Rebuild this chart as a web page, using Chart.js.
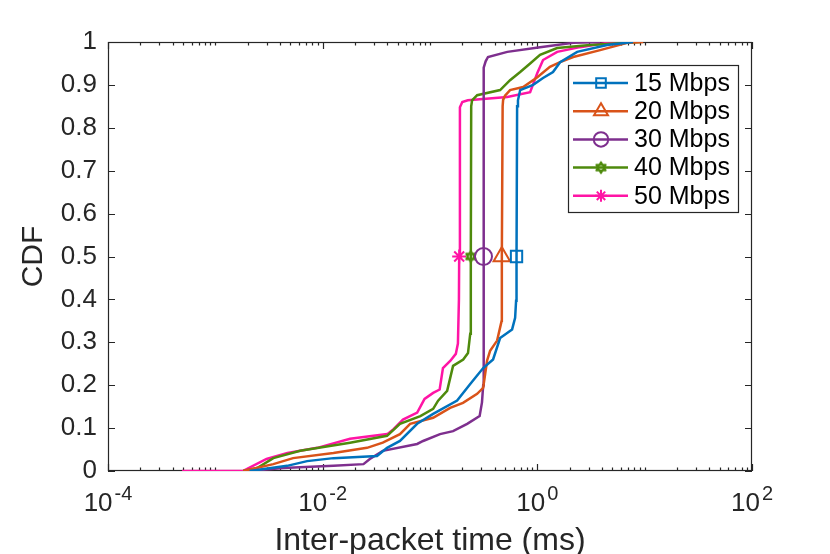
<!DOCTYPE html>
<html>
<head>
<meta charset="utf-8">
<script src="https://cdn.jsdelivr.net/npm/chart.js@4.4.1/dist/chart.umd.min.js"></script>
<style>
  html, body { margin: 0; padding: 0; background: #fff; }
  canvas { display: block; }
</style>
</head>
<body>
<canvas id="grafico" width="830" height="554"></canvas>
<script>
// series names
const seriesNames = ['15 Mbps', '20 Mbps', '30 Mbps', '40 Mbps', '50 Mbps'];

// inter-packet time (ms) and CDF value for each curve
const tiempo15 = [0.00209, 0.00466, 0.00716, 0.0126, 0.0321, 0.0398, 0.0525, 0.0759, 0.107, 0.179, 0.237, 0.313, 0.387, 0.45, 0.582, 0.621, 0.634, 0.64, 0.648, 0.66, 0.692, 0.914, 1.13, 1.40, 1.63, 2.35, 4.47, 7.8];
const cdf15    = [0, 0.012, 0.023, 0.03, 0.035, 0.054, 0.07, 0.11, 0.133, 0.164, 0.203, 0.24, 0.26, 0.31, 0.33, 0.357, 0.397, 0.5, 0.85, 0.864, 0.888, 0.9, 0.916, 0.93, 0.953, 0.977, 0.993, 1.0];

const tiempo20 = [0.00182, 0.00347, 0.0053, 0.0126, 0.0259, 0.0363, 0.0525, 0.0653, 0.107, 0.154, 0.203, 0.275, 0.313, 0.34, 0.363, 0.422, 0.465, 0.467, 0.475, 0.48, 0.5, 0.557, 0.738, 1.0, 1.31, 1.63, 2.16, 3.85, 6.87, 9.7];
const cdf20    = [0, 0.016, 0.03, 0.042, 0.054, 0.066, 0.086, 0.11, 0.124, 0.147, 0.159, 0.18, 0.194, 0.257, 0.28, 0.304, 0.35, 0.5, 0.85, 0.865, 0.875, 0.888, 0.895, 0.918, 0.942, 0.953, 0.965, 0.981, 0.998, 1.0];

const tiempo30 = [0.00209, 0.00427, 0.0126, 0.024, 0.0275, 0.0363, 0.0759, 0.0863, 0.124, 0.164, 0.222, 0.29, 0.305, 0.313, 0.315, 0.318, 0.33, 0.347, 0.525, 1.06, 2.16, 3.85];
const cdf30    = [0, 0.007, 0.012, 0.016, 0.028, 0.047, 0.063, 0.07, 0.086, 0.093, 0.11, 0.128, 0.16, 0.2, 0.5, 0.94, 0.955, 0.965, 0.977, 0.988, 0.998, 1.0];

const tiempo40 = [0.00182, 0.00245, 0.00347, 0.00617, 0.018, 0.0398, 0.0525, 0.0813, 0.107, 0.119, 0.1445, 0.164, 0.204, 0.226, 0.237, 0.24, 0.242, 0.2466, 0.275, 0.45, 0.557, 0.692, 0.857, 1.06, 1.53, 3.09, 9.1];
const cdf40    = [0, 0.007, 0.03, 0.047, 0.066, 0.082, 0.11, 0.128, 0.145, 0.164, 0.187, 0.245, 0.26, 0.275, 0.32, 0.5, 0.85, 0.864, 0.876, 0.888, 0.911, 0.93, 0.95, 0.97, 0.986, 0.993, 1.0];

const tiempo50 = [0.00049, 0.0018, 0.003, 0.0047, 0.0089, 0.018, 0.040, 0.046, 0.056, 0.076, 0.089, 0.107, 0.123, 0.132, 0.155, 0.174, 0.182, 0.186, 0.187, 0.19, 0.2, 0.225, 0.525, 0.857, 1.0, 1.13, 1.53, 2.5, 4.5, 6.3];
const cdf50    = [0, 0, 0.028, 0.042, 0.054, 0.075, 0.086, 0.098, 0.12, 0.136, 0.168, 0.182, 0.19, 0.24, 0.257, 0.273, 0.297, 0.4, 0.5, 0.848, 0.86, 0.864, 0.872, 0.883, 0.928, 0.958, 0.977, 0.988, 0.998, 1.0];

// axis ticks (x labels are 10 raised to the exponent)
const xTickValues = [1e-4, 1e-2, 1, 100];
const xTickBase = ['10', '10', '10', '10'];
const xTickExponent = ['-4', '-2', '0', '2'];
const yTickValues = [0, 0.1, 0.2, 0.3, 0.4, 0.5, 0.6, 0.7, 0.8, 0.9, 1];
const yTickLabels = ['0', '0.1', '0.2', '0.3', '0.4', '0.5', '0.6', '0.7', '0.8', '0.9', '1'];

// the marker sits on the point where the CDF is 0.5
const markerCdf = 0.5;

const tiempos = [tiempo15, tiempo20, tiempo30, tiempo40, tiempo50];
const cdfs = [cdf15, cdf20, cdf30, cdf40, cdf50];

const colores = ['#0072BD', '#D95319', '#7E2F8E', '#4E8A0C', '#FF14A5'];
const ejeColor = '#262626';
const fuente = '"Liberation Sans", Arial, sans-serif';

function hexagrama(color) {
  const c = document.createElement('canvas');
  c.width = 16; c.height = 16;
  const g = c.getContext('2d');
  g.strokeStyle = color;
  g.lineWidth = 1.8;
  g.lineJoin = 'round';
  [-90, 90].forEach(inicio => {
    g.beginPath();
    for (let k = 0; k < 3; k++) {
      const a = (inicio + k * 120) * Math.PI / 180;
      const px = 8 + 5.5 * Math.cos(a), py = 8 + 5.5 * Math.sin(a);
      if (k) g.lineTo(px, py); else g.moveTo(px, py);
    }
    g.closePath();
    g.stroke();
  });
  return c;
}

const marcadores = ['rect', 'triangle', 'circle', hexagrama(colores[3]), 'star'];
const tamMarcador = [8, 9.5, 8.5, 6, 7];

Chart.defaults.font.family = fuente;
Chart.defaults.color = ejeColor;

const datasets = seriesNames.map((nombre, i) => ({
  label: nombre,
  data: tiempos[i].map((t, k) => ({ x: t, y: cdfs[i][k] })),
  borderColor: colores[i],
  backgroundColor: 'rgba(0,0,0,0)',
  borderWidth: 2.5,
  tension: 0,
  pointStyle: marcadores[i],
  pointRadius: ctx => (ctx.raw && ctx.raw.y === markerCdf ? tamMarcador[i] : 0),
  pointHoverRadius: 0,
  pointBorderColor: colores[i],
  pointBackgroundColor: 'rgba(0,0,0,0)',
  pointBorderWidth: 2
}));

// box + inward ticks like MATLAB, x labels with superscript, legend
const marco = {
  id: 'marco',
  beforeDatasetsDraw(chart) {
    const { ctx, chartArea: a, scales: { x, y } } = chart;
    ctx.save();
    ctx.strokeStyle = ejeColor;
    ctx.lineWidth = 1.2;
    ctx.beginPath();
    yTickValues.forEach(v => {
      const p = Math.round(y.getPixelForValue(v)) + 0.5;
      ctx.moveTo(a.left, p); ctx.lineTo(a.left + 7, p);
      ctx.moveTo(a.right, p); ctx.lineTo(a.right - 7, p);
    });
    xTickValues.forEach(v => {
      const p = Math.round(x.getPixelForValue(v)) + 0.5;
      ctx.moveTo(p, a.bottom); ctx.lineTo(p, a.bottom - 7);
      ctx.moveTo(p, a.top); ctx.lineTo(p, a.top + 7);
    });
    for (let e = -4; e < 2; e++) {
      for (let m = 1; m < 10; m++) {
        const v = m * Math.pow(10, e);
        if (xTickValues.some(t => Math.abs(t - v) / t < 1e-9)) continue;
        const p = Math.round(x.getPixelForValue(v)) + 0.5;
        ctx.moveTo(p, a.bottom); ctx.lineTo(p, a.bottom - 3.5);
        ctx.moveTo(p, a.top); ctx.lineTo(p, a.top + 3.5);
      }
    }
    ctx.stroke();
    ctx.strokeRect(a.left + 0.5, a.top + 0.5, a.right - a.left - 1, a.bottom - a.top - 1);

    // x tick labels: base + raised exponent, centered on the tick
    ctx.fillStyle = ejeColor;
    ctx.textBaseline = 'alphabetic';
    ctx.textAlign = 'left';
    xTickValues.forEach((v, i) => {
      const p = x.getPixelForValue(v);
      ctx.font = '26px ' + fuente;
      const wb = ctx.measureText(xTickBase[i]).width;
      ctx.font = '20px ' + fuente;
      const we = ctx.measureText(xTickExponent[i]).width;
      const x0 = p - (wb + 2 + we) / 2;
      ctx.font = '26px ' + fuente;
      ctx.fillText(xTickBase[i], x0, a.bottom + 40);
      ctx.font = '20px ' + fuente;
      ctx.fillText(xTickExponent[i], x0 + wb + 2, a.bottom + 29);
    });
    ctx.restore();
  },
  afterDraw(chart) {
    const ctx = chart.ctx;
    const caja = { x: 568, y: 65, w: 170, h: 147 };
    ctx.save();
    ctx.fillStyle = '#fff';
    ctx.fillRect(caja.x, caja.y, caja.w, caja.h);
    ctx.strokeStyle = ejeColor;
    ctx.lineWidth = 1.2;
    ctx.strokeRect(caja.x + 0.5, caja.y + 0.5, caja.w, caja.h);
    seriesNames.forEach((nombre, i) => {
      const fy = 83 + i * 28.2;
      ctx.strokeStyle = colores[i];
      ctx.lineWidth = 2.5;
      ctx.beginPath();
      ctx.moveTo(573, fy); ctx.lineTo(628, fy);
      ctx.stroke();
      ctx.lineWidth = 2;
      ctx.fillStyle = 'rgba(0,0,0,0)';
      Chart.helpers.drawPoint(ctx, {
        pointStyle: marcadores[i],
        radius: tamMarcador[i] * 0.85,
        rotation: 0,
        borderWidth: 2
      }, 601, fy);
      ctx.fillStyle = '#000';
      ctx.font = '25px ' + fuente;
      ctx.textBaseline = 'middle';
      ctx.textAlign = 'left';
      ctx.fillText(nombre, 634, fy + 1);
    });
    ctx.restore();
  }
};

new Chart(document.getElementById('grafico'), {
  type: 'line',
  data: { datasets: datasets },
  options: {
    responsive: false,
    animation: false,
    devicePixelRatio: 1,
    layout: { padding: { top: 42, right: 78, left: 0, bottom: 0 } },
    plugins: {
      legend: { display: false },
      tooltip: { enabled: false }
    },
    scales: {
      x: {
        type: 'logarithmic',
        min: 1e-4,
        max: 100,
        afterBuildTicks: s => { s.ticks = xTickValues.map(v => ({ value: v })); },
        afterFit: s => { s.height = 83; },
        grid: { display: false, drawTicks: false },
        border: { display: false },
        ticks: { display: false },
        title: {
          display: true,
          text: 'Inter-packet time (ms)',
          font: { size: 32, lineHeight: 1 },
          color: ejeColor,
          padding: { top: 0, bottom: -3 }
        }
      },
      y: {
        type: 'linear',
        min: 0,
        max: 1,
        afterBuildTicks: s => { s.ticks = yTickValues.map(v => ({ value: v })); },
        afterFit: s => { s.width = 108; },
        grid: { display: false, drawTicks: false },
        border: { display: false },
        ticks: {
          autoSkip: false,
          padding: 11,
          font: { size: 26 },
          color: ejeColor,
          callback: (v, i) => yTickLabels[i]
        },
        title: {
          display: true,
          text: 'CDF',
          font: { size: 30, lineHeight: 1 },
          color: ejeColor,
          padding: { top: 19, bottom: 0 }
        }
      }
    }
  },
  plugins: [marco]
});
</script>
</body>
</html>
